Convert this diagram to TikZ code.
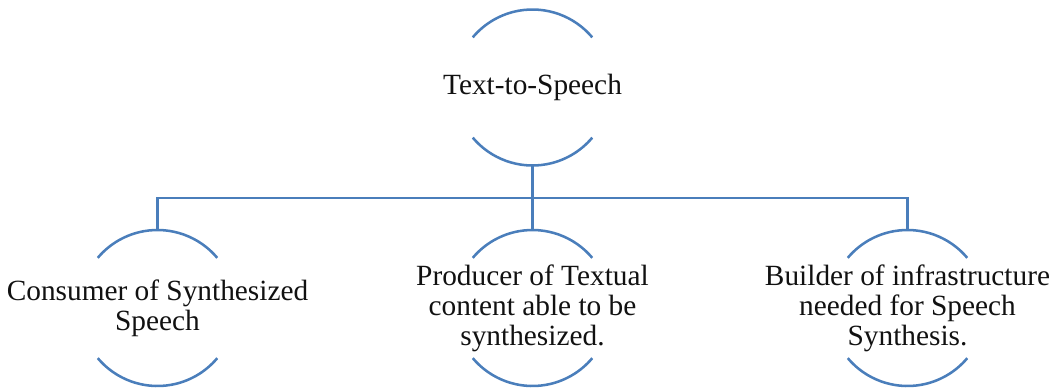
\documentclass[tikz,border=0pt]{standalone}
\usepackage{fontspec}
\setmainfont{Liberation Serif}
\usepackage{xcolor}
\usetikzlibrary{calc}
\definecolor{ttsblue}{HTML}{4A7EBB}
\definecolor{ttstext}{HTML}{111111}

\begin{document}
\begin{tikzpicture}[x=0.75pt,y=0.75pt,
  text=ttstext,
  rolering/.style={circle,minimum size=117pt,inner sep=0pt,outer sep=0pt},
  rolefont/.style={align=center,font=\fontsize{22}{22.6}\selectfont,text=ttstext},
  arcline/.style={draw=ttsblue,line width=1.9pt},
  connector/.style={draw=ttsblue,line width=1.9pt}
]
\path[use as bounding box] (0,0) rectangle (1053,387);

% Root and the three roles
\node[rolering,label={[rolefont]center:Text-to-Speech}] (tts) at (532.5,299.5) {};
\node[rolering,label={[rolefont]center:Consumer of Synthesized\\Speech}] (consumer) at (157.5,79) {};
\node[rolering,label={[rolefont]center:Producer of Textual\\content able to be\\synthesized.}] (producer) at (532.5,79) {};
\node[rolering,label={[rolefont]center:Builder of infrastructure\\needed for Speech\\Synthesis.}] (builder) at (907.5,79) {};

% Open circles: only top and bottom arcs
\foreach \n in {tts,consumer,producer,builder}{
  \draw[arcline] (\n.40) arc[start angle=40,end angle=140,radius=58.5pt];
  \draw[arcline] (\n.220) arc[start angle=220,end angle=320,radius=58.5pt];
}

% Tree connectors through a common bus
\coordinate (bus) at (532.5,189);
\draw[connector] (tts.south) -- (bus) -| (consumer.north);
\draw[connector] (bus) -- (producer.north);
\draw[connector] (bus) -| (builder.north);

\end{tikzpicture}
\end{document}
